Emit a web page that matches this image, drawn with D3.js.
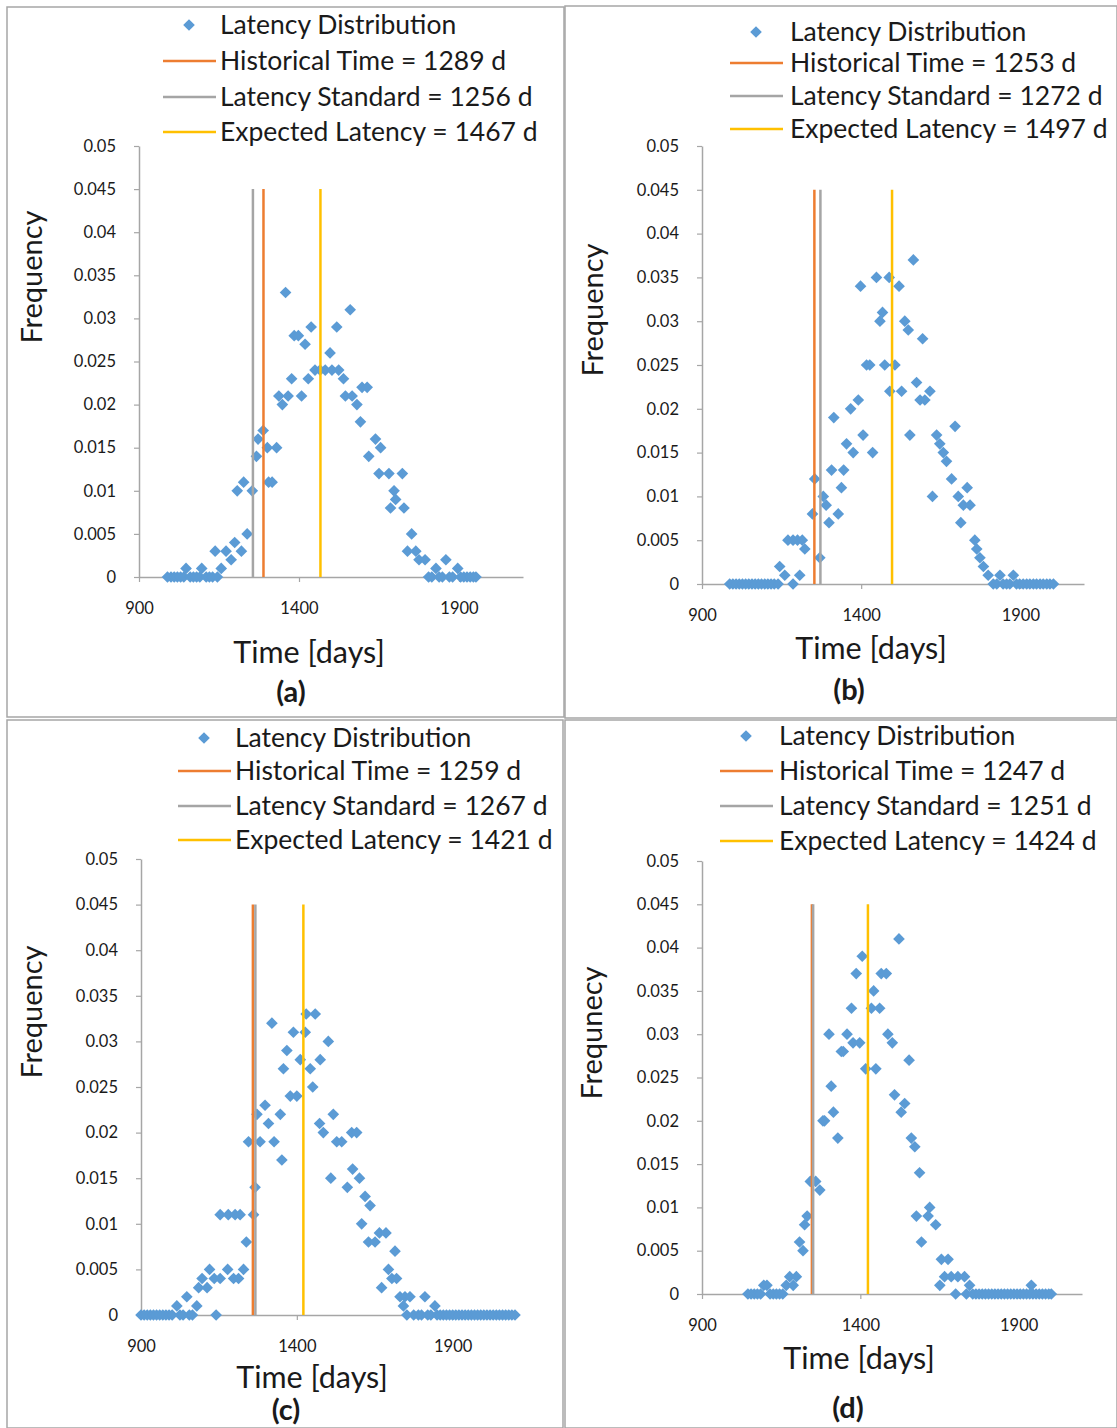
<!DOCTYPE html>
<html>
<head>
<meta charset="utf-8">
<script src="https://cdn.jsdelivr.net/npm/d3@7"></script>
<style>
  body { margin: 0; background: #fff; }
  svg { display: block; }
</style>
</head>
<body>
<script>
const WIDTH = 1117;
const HEIGHT = 1428;
const FONT = "Lato, 'Open Sans', sans-serif";

const xDomain = [900, 2100];
const yDomain = [0, 0.05];
const xTickValues = [900, 1400, 1900];
const yTickValues = [0, 0.005, 0.01, 0.015, 0.02, 0.025, 0.03, 0.035, 0.04, 0.045, 0.05];
const lineTop = 0.045;

const panelLabels = ["(a)", "(b)", "(c)", "(d)"];
const yAxisTitles = ["Frequency", "Frequency", "Frequency", "Frequnecy"];
const xAxisTitle = "Time [days]";
const historicalTime = [1289, 1253, 1259, 1247];
const latencyStandard = [1256, 1272, 1267, 1251];
const expectedLatency = [1467, 1497, 1421, 1424];

// [day, frequency]
const latencyA = [
  [989, 0], [1000, 0], [1010, 0], [1020, 0], [1030, 0], [1040, 0], [1047, 0.001], [1060, 0], [1070, 0],
  [1080, 0], [1090, 0], [1096, 0.001], [1110, 0], [1120, 0], [1130, 0], [1138, 0.003], [1145, 0],
  [1157, 0.001], [1172, 0.003], [1188, 0.002], [1199, 0.004], [1207, 0.010], [1220, 0.003], [1227, 0.011],
  [1238, 0.005], [1254, 0.010], [1267, 0.014], [1272, 0.016], [1288, 0.017], [1301, 0.015], [1305, 0.011],
  [1316, 0.011], [1330, 0.015], [1337, 0.021], [1348, 0.020], [1358, 0.033], [1366, 0.021], [1377, 0.023],
  [1385, 0.028], [1398, 0.028], [1408, 0.021], [1419, 0.027], [1429, 0.023], [1438, 0.029], [1450, 0.024],
  [1466, 0.024], [1482, 0.024], [1497, 0.026], [1503, 0.024], [1518, 0.029], [1524, 0.024], [1539, 0.023],
  [1545, 0.021], [1560, 0.031], [1566, 0.021], [1581, 0.020], [1592, 0.018], [1597, 0.022], [1613, 0.022],
  [1618, 0.014], [1639, 0.016], [1650, 0.012], [1655, 0.015], [1681, 0.012], [1686, 0.008], [1697, 0.010],
  [1702, 0.009], [1723, 0.012], [1728, 0.008], [1739, 0.003], [1752, 0.005], [1765, 0.003], [1775, 0.002],
  [1794, 0.002], [1805, 0], [1815, 0], [1828, 0.001], [1838, 0], [1848, 0], [1859, 0.002], [1870, 0],
  [1880, 0], [1896, 0.001], [1905, 0], [1915, 0], [1925, 0], [1935, 0], [1945, 0], [1953, 0]
];
const latencyB = [
  [987, 0], [997, 0], [1007, 0], [1017, 0], [1027, 0], [1037, 0], [1047, 0], [1057, 0], [1067, 0],
  [1077, 0], [1087, 0], [1097, 0], [1107, 0], [1117, 0], [1127, 0], [1139, 0], [1144, 0.002], [1160, 0.001],
  [1170, 0.005], [1186, 0.005], [1186, 0], [1200, 0.005], [1207, 0.001], [1215, 0.005], [1223, 0.004],
  [1247, 0.008], [1254, 0.012], [1270, 0.003], [1281, 0.010], [1290, 0.009], [1299, 0.007], [1307, 0.013],
  [1314, 0.019], [1328, 0.008], [1338, 0.011], [1345, 0.013], [1354, 0.016], [1367, 0.020], [1375, 0.015],
  [1391, 0.021], [1398, 0.034], [1406, 0.017], [1417, 0.025], [1427, 0.025], [1436, 0.015], [1448, 0.035],
  [1459, 0.030], [1467, 0.031], [1474, 0.025], [1488, 0.035], [1490, 0.022], [1506, 0.025], [1519, 0.034],
  [1527, 0.022], [1537, 0.030], [1548, 0.029], [1553, 0.017], [1564, 0.037], [1574, 0.023], [1585, 0.021],
  [1593, 0.028], [1600, 0.021], [1616, 0.022], [1624, 0.010], [1637, 0.017], [1647, 0.016], [1658, 0.015],
  [1668, 0.014], [1684, 0.012], [1695, 0.018], [1705, 0.010], [1713, 0.007], [1721, 0.009], [1733, 0.011],
  [1742, 0.009], [1757, 0.005], [1763, 0.004], [1773, 0.003], [1784, 0.002], [1799, 0.001], [1815, 0],
  [1826, 0], [1836, 0.001], [1846, 0], [1857, 0], [1867, 0], [1878, 0.001], [1888, 0], [1898, 0], [1909, 0],
  [1920, 0], [1930, 0], [1941, 0], [1951, 0], [1962, 0], [1972, 0], [1983, 0], [1993, 0], [2004, 0]
];
const latencyC = [
  [900, 0], [910, 0], [920, 0], [930, 0], [940, 0], [950, 0], [960, 0], [970, 0], [980, 0], [990, 0],
  [1000, 0], [1015, 0.001], [1025, 0], [1035, 0], [1047, 0.002], [1055, 0], [1065, 0], [1079, 0.001],
  [1085, 0.003], [1096, 0.004], [1112, 0.003], [1120, 0.005], [1135, 0.004], [1141, 0], [1154, 0.004],
  [1154, 0.011], [1178, 0.005], [1180, 0.011], [1197, 0.004], [1202, 0.011], [1213, 0.004], [1218, 0.011],
  [1229, 0.005], [1238, 0.008], [1245, 0.019], [1261, 0.011], [1266, 0.014], [1272, 0.022], [1282, 0.019],
  [1298, 0.023], [1309, 0.021], [1320, 0.032], [1327, 0.019], [1347, 0.022], [1352, 0.017], [1357, 0.027],
  [1368, 0.029], [1379, 0.024], [1389, 0.031], [1400, 0.024], [1411, 0.028], [1427, 0.031], [1430, 0.033],
  [1443, 0.027], [1451, 0.025], [1459, 0.033], [1473, 0.021], [1475, 0.028], [1485, 0.020], [1501, 0.030],
  [1509, 0.015], [1517, 0.022], [1528, 0.019], [1544, 0.019], [1562, 0.014], [1576, 0.020], [1579, 0.016],
  [1592, 0.020], [1601, 0.015], [1608, 0.010], [1619, 0.013], [1630, 0.008], [1635, 0.012], [1651, 0.008],
  [1665, 0.009], [1672, 0.003], [1686, 0.009], [1694, 0.005], [1705, 0.004], [1715, 0.007], [1720, 0.004],
  [1731, 0.002], [1742, 0.001], [1747, 0.002], [1753, 0], [1763, 0.002], [1775, 0], [1790, 0], [1800, 0],
  [1811, 0.002], [1820, 0], [1830, 0], [1843, 0.001], [1850, 0], [1860, 0], [1870, 0], [1880, 0], [1890, 0],
  [1900, 0], [1910, 0], [1920, 0], [1930, 0], [1940, 0], [1950, 0], [1960, 0], [1970, 0], [1980, 0],
  [1990, 0], [2000, 0], [2010, 0], [2020, 0], [2030, 0], [2040, 0], [2050, 0], [2060, 0], [2070, 0],
  [2080, 0], [2090, 0], [2100, 0]
];
const latencyD = [
  [1045, 0], [1055, 0], [1065, 0], [1075, 0], [1085, 0], [1095, 0.001], [1105, 0.001], [1115, 0], [1125, 0],
  [1135, 0], [1145, 0], [1155, 0], [1166, 0.001], [1177, 0.002], [1188, 0.001], [1198, 0.002], [1208, 0.006],
  [1219, 0.005], [1224, 0.008], [1232, 0.009], [1242, 0.013], [1259, 0.013], [1272, 0.012], [1282, 0.020],
  [1287, 0.020], [1301, 0.030], [1308, 0.024], [1315, 0.021], [1329, 0.018], [1340, 0.028], [1346, 0.028],
  [1358, 0.030], [1372, 0.033], [1377, 0.029], [1387, 0.037], [1398, 0.029], [1406, 0.039], [1417, 0.026],
  [1435, 0.033], [1442, 0.035], [1449, 0.026], [1461, 0.033], [1466, 0.037], [1482, 0.037], [1487, 0.030],
  [1501, 0.029], [1508, 0.023], [1522, 0.041], [1529, 0.021], [1540, 0.022], [1554, 0.027], [1561, 0.018],
  [1572, 0.017], [1577, 0.009], [1587, 0.014], [1593, 0.006], [1614, 0.009], [1619, 0.010], [1638, 0.008],
  [1651, 0.001], [1656, 0.004], [1666, 0.002], [1677, 0.004], [1687, 0.002], [1701, 0], [1708, 0.002],
  [1729, 0.002], [1735, 0], [1745, 0.001], [1755, 0], [1765, 0], [1775, 0], [1785, 0], [1795, 0], [1805, 0],
  [1815, 0], [1825, 0], [1835, 0], [1845, 0], [1855, 0], [1865, 0], [1875, 0], [1885, 0], [1895, 0],
  [1905, 0], [1915, 0], [1925, 0], [1940, 0.001], [1935, 0], [1945, 0], [1955, 0], [1965, 0], [1975, 0],
  [1985, 0], [1995, 0], [2003, 0]
];
const latencySeries = [latencyA, latencyB, latencyC, latencyD];

// page layout of the four panels
const layouts = [
  { box: [7, 7, 564, 717], left: 139, right: 523, top: 146, bottom: 577,
    legLine: 163, legText: 220, legY: [25, 61, 97, 132], yTitle: [32, 277], xTitle: [309, 652], label: [291, 692] },
  { box: [565, 6, 1117, 718], left: 702, right: 1084, top: 146, bottom: 584,
    legLine: 730, legText: 790, legY: [32, 63, 96, 129], yTitle: [593, 310], xTitle: [871, 648], label: [849, 690] },
  { box: [7, 720, 563, 1428], left: 141, right: 515, top: 859, bottom: 1315,
    legLine: 178, legText: 235, legY: [738, 771, 806, 840], yTitle: [32, 1012], xTitle: [312, 1377], label: [286, 1410] },
  { box: [565, 720, 1117, 1428], left: 702, right: 1082, top: 861, bottom: 1294,
    legLine: 720, legText: 779, legY: [736, 771, 806, 841], yTitle: [592, 1033], xTitle: [859, 1358], label: [848, 1408] }
];

const BLUE = "#5b9bd5";
const ORANGE = "#ed7d31";
const GRAY = "#a5a5a5";
const YELLOW = "#ffc000";
const AXIS = "#a6a6a6";
const TEXT = "#1a1a1a";

const diamond = d3.symbol().type(d3.symbolSquare).size(68);

const svg = d3.select("body").append("svg")
  .attr("width", WIDTH)
  .attr("height", HEIGHT)
  .attr("viewBox", `0 0 ${WIDTH} ${HEIGHT}`);

svg.append("rect").attr("width", WIDTH).attr("height", HEIGHT).attr("fill", "#fff");

layouts.forEach((L, i) => {
  const g = svg.append("g");

  // panel frame
  g.append("rect")
    .attr("x", L.box[0]).attr("y", L.box[1])
    .attr("width", L.box[2] - L.box[0]).attr("height", L.box[3] - L.box[1])
    .attr("fill", "none").attr("stroke", AXIS).attr("stroke-width", 1.5);

  const x = d3.scaleLinear().domain(xDomain).range([L.left, L.right]);
  const y = d3.scaleLinear().domain(yDomain).range([L.bottom, L.top]);

  // axes
  const yAxis = g.append("g")
    .attr("transform", `translate(${L.left},0)`)
    .call(d3.axisLeft(y).tickValues(yTickValues).tickSize(5).tickSizeOuter(0).tickPadding(18)
      .tickFormat((d) => String(+d.toFixed(3))));
  const xAxis = g.append("g")
    .attr("transform", `translate(0,${L.bottom})`)
    .call(d3.axisBottom(x).tickValues(xTickValues).tickSize(5).tickSizeOuter(0).tickPadding(20)
      .tickFormat(d3.format("d")));
  [xAxis, yAxis].forEach((ax) => {
    ax.select(".domain").attr("stroke", AXIS).attr("stroke-width", 1.5);
    ax.selectAll(".tick line").attr("stroke", AXIS).attr("stroke-width", 1.2);
    ax.selectAll(".tick text").attr("fill", TEXT).attr("font-size", "16.5px").attr("font-family", FONT);
  });

  // distribution points
  g.append("g").selectAll("path")
    .data(latencySeries[i])
    .join("path")
    .attr("d", diamond)
    .attr("transform", (d) => `translate(${x(d[0])},${y(d[1])}) rotate(45)`)
    .attr("fill", BLUE);

  // reference lines
  const refs = [
    { v: historicalTime[i], color: ORANGE, label: `Historical Time = ${historicalTime[i]} d` },
    { v: latencyStandard[i], color: GRAY, label: `Latency Standard = ${latencyStandard[i]} d` },
    { v: expectedLatency[i], color: YELLOW, label: `Expected Latency = ${expectedLatency[i]} d` }
  ];
  refs.forEach((r) => {
    g.append("line")
      .attr("x1", x(r.v)).attr("x2", x(r.v))
      .attr("y1", y(0)).attr("y2", y(lineTop))
      .attr("stroke", r.color).attr("stroke-width", 2.5);
  });

  // legend
  const leg = g.append("g").attr("font-family", FONT).attr("font-size", "26.5px").attr("fill", TEXT);
  leg.append("path")
    .attr("d", diamond)
    .attr("transform", `translate(${L.legLine + 26},${L.legY[0]}) rotate(45)`)
    .attr("fill", BLUE);
  leg.append("text").attr("x", L.legText).attr("y", L.legY[0]).attr("dy", "0.35em").text("Latency Distribution");
  refs.forEach((r, k) => {
    leg.append("line")
      .attr("x1", L.legLine).attr("x2", L.legLine + 53)
      .attr("y1", L.legY[k + 1]).attr("y2", L.legY[k + 1])
      .attr("stroke", r.color).attr("stroke-width", 2.5);
    leg.append("text").attr("x", L.legText).attr("y", L.legY[k + 1]).attr("dy", "0.35em").text(r.label);
  });

  // titles
  g.append("text")
    .attr("transform", `translate(${L.yTitle[0]},${L.yTitle[1]}) rotate(-90)`)
    .attr("text-anchor", "middle").attr("dy", "0.35em")
    .attr("font-family", FONT).attr("font-size", "29px").attr("fill", TEXT)
    .text(yAxisTitles[i]);
  g.append("text")
    .attr("x", L.xTitle[0]).attr("y", L.xTitle[1])
    .attr("text-anchor", "middle").attr("dy", "0.35em")
    .attr("font-family", FONT).attr("font-size", "30.5px").attr("fill", TEXT)
    .text(xAxisTitle);
  g.append("text")
    .attr("x", L.label[0]).attr("y", L.label[1])
    .attr("text-anchor", "middle").attr("dy", "0.35em")
    .attr("font-family", FONT).attr("font-size", "29px").attr("font-weight", "bold").attr("fill", TEXT)
    .text(panelLabels[i]);
});
</script>
</body>
</html>
